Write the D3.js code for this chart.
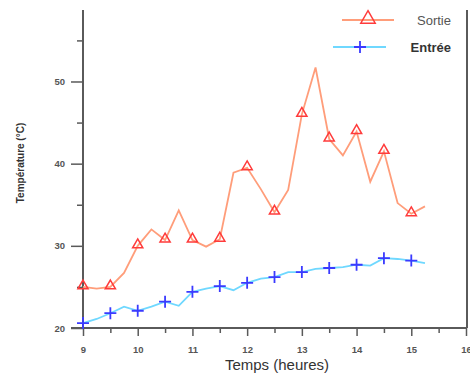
<!DOCTYPE html>
<html><head><meta charset="utf-8">
<script src="https://cdn.jsdelivr.net/npm/d3@7"></script>
<style>body{margin:0;background:#fff}svg{display:block}</style>
</head><body><svg id="c" width="470" height="376"></svg>
<script>
const times = [9,9.25,9.5,9.75,10,10.25,10.5,10.75,11,11.25,11.5,11.75,12,12.25,12.5,12.75,13,13.25,13.5,13.75,14,14.25,14.5,14.75,15,15.25];
const sortie = [25.0,24.8,25.0,26.7,30.0,32.0,30.7,34.3,30.7,29.9,30.8,38.9,39.5,36.9,34.1,36.8,46.0,51.7,43.0,41.0,43.9,37.8,41.5,35.2,33.9,34.8];
const entree = [20.6,21.1,21.8,22.6,22.1,22.6,23.2,22.7,24.4,24.8,25.1,24.6,25.5,26.0,26.2,26.8,26.8,27.2,27.3,27.4,27.7,27.6,28.5,28.4,28.2,27.9];
const xTicks = [9,10,11,12,13,14,15,16];
const yTicks = [20,30,40,50];
const seriesNames = ["Sortie","Entrée"];

const svg = d3.select("#c");
const x = d3.scaleLinear().domain([9,16]).range([83,466]);
const y = d3.scaleLinear().domain([20,58.7]).range([328,10]);
const axisCol = "#5a5a5a";

// y axis
const ya = svg.append("g").attr("transform","translate(83,0)")
  .call(d3.axisLeft(y).tickValues(yTicks).tickSize(12).tickPadding(6).tickFormat(d3.format("d")));
ya.select(".domain").remove();
svg.append("g").attr("transform","translate(83,0)")
  .call(d3.axisLeft(y).tickValues([25,35,45,55]).tickSize(6).tickFormat(""))
  .select(".domain").remove();
svg.append("line").attr("x1",83).attr("x2",83).attr("y1",10).attr("y2",328)
  .attr("stroke",axisCol).attr("stroke-width",2);
svg.append("line").attr("x1",467).attr("x2",467).attr("y1",10).attr("y2",328)
  .attr("stroke",axisCol).attr("stroke-width",2);

// x axis
const xa = svg.append("g").attr("transform","translate(0,328)")
  .call(d3.axisBottom(x).tickValues(xTicks).tickSize(8).tickPadding(10).tickFormat(d3.format("d")));
xa.select(".domain").remove();
svg.append("g").attr("transform","translate(0,328)")
  .call(d3.axisBottom(x).tickValues(d3.range(9.5,16,1)).tickSize(5).tickFormat(""))
  .select(".domain").remove();
svg.append("line").attr("x1",71).attr("x2",467).attr("y1",328).attr("y2",328)
  .attr("stroke",axisCol).attr("stroke-width",2);

svg.selectAll(".tick line").attr("stroke",axisCol).attr("stroke-width",1.5);
svg.selectAll(".tick text").attr("fill","#555").style("font-family","Liberation Sans, Arial, sans-serif")
  .style("font-size","9.5px").style("font-weight","bold");

// axis titles
svg.append("text").attr("x",277).attr("y",370).attr("text-anchor","middle")
  .style("font-family","Liberation Sans, Arial, sans-serif").style("font-size","15px")
  .attr("fill","#333").text("Temps (heures)");
svg.append("text").attr("transform","translate(24,163) rotate(-90)").attr("text-anchor","middle")
  .style("font-family","Liberation Sans, Arial, sans-serif").style("font-size","10px").style("font-weight","bold")
  .attr("fill","#333").text("Température (°C)");

const line = d3.line().x((d,i)=>x(times[i])).y(d=>y(d));
const sCol = "#ff9d7a", sMark = "#ff3b3b", eCol = "#6fd8ff", eMark = "#3a3aff";

svg.append("path").datum(entree).attr("d",line).attr("fill","none").attr("stroke",eCol).attr("stroke-width",1.8);
svg.append("path").datum(sortie).attr("d",line).attr("fill","none").attr("stroke",sCol).attr("stroke-width",1.8);

const tri = d3.symbol().type(d3.symbolTriangle).size(45);
function plus(g){ g.append("path").attr("d","M-6,0H6M0,-6V6").attr("stroke",eMark).attr("stroke-width",1.8).attr("fill","none"); }

times.forEach((t,i)=>{
  if (i%2===0 && t<=15) {
    svg.append("path").attr("d",tri()).attr("transform",`translate(${x(t)},${y(sortie[i])-1})`)
      .attr("fill","none").attr("stroke",sMark).attr("stroke-width",1.5);
    plus(svg.append("g").attr("transform",`translate(${x(t)},${y(entree[i])})`));
  }
});

// legend
const lg = svg.append("g");
lg.append("line").attr("x1",342).attr("x2",394).attr("y1",20).attr("y2",20).attr("stroke",sCol).attr("stroke-width",2);
lg.append("path").attr("d",d3.symbol().type(d3.symbolTriangle).size(90)()).attr("transform","translate(368,19)")
  .attr("fill","none").attr("stroke",sMark).attr("stroke-width",1.5);
lg.append("text").attr("x",451).attr("y",25).attr("text-anchor","end")
  .style("font-family","Liberation Sans, Arial, sans-serif").style("font-size","13px").attr("fill","#555").text(seriesNames[0]);
lg.append("line").attr("x1",333).attr("x2",386).attr("y1",47).attr("y2",47).attr("stroke",eCol).attr("stroke-width",2);
plus(lg.append("g").attr("transform","translate(360,47)"));
lg.append("text").attr("x",451).attr("y",52).attr("text-anchor","end")
  .style("font-family","Liberation Sans, Arial, sans-serif").style("font-size","13px").style("font-weight","bold")
  .attr("fill","#333").text(seriesNames[1]);
</script></body></html>
